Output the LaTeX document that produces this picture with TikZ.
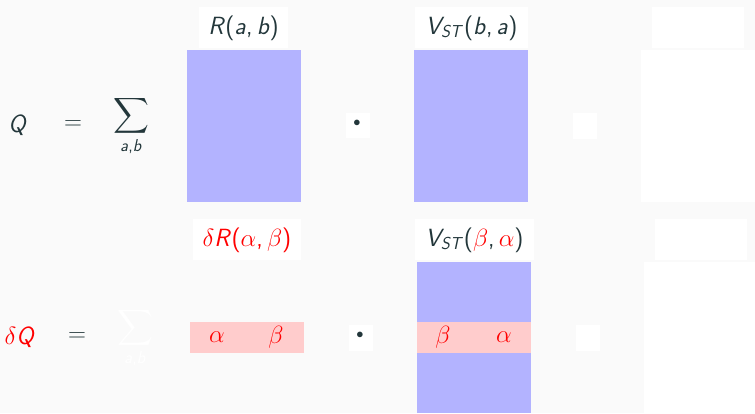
\documentclass[tikz,border=0pt]{standalone}
\usepackage{amsmath}
\definecolor{bg}{HTML}{FAFAFA}
\definecolor{ink}{HTML}{23373B}
\definecolor{blk}{HTML}{B3B3FF}
\definecolor{pnk}{HTML}{FFCCCC}
\definecolor{hot}{HTML}{FF0000}
\DeclareSymbolFont{sfletters}{OT1}{cmss}{m}{sl}
\DeclareSymbolFont{sfops}{OT1}{cmss}{m}{n}
\DeclareMathSymbol{Q}{\mathalpha}{sfletters}{`Q}
\DeclareMathSymbol{R}{\mathalpha}{sfletters}{`R}
\DeclareMathSymbol{V}{\mathalpha}{sfletters}{`V}
\DeclareMathSymbol{S}{\mathalpha}{sfletters}{`S}
\DeclareMathSymbol{T}{\mathalpha}{sfletters}{`T}
\DeclareMathSymbol{a}{\mathalpha}{sfletters}{`a}
\DeclareMathSymbol{b}{\mathalpha}{sfletters}{`b}
\DeclareMathSymbol{(}{\mathopen}{sfops}{`(}
\DeclareMathSymbol{)}{\mathclose}{sfops}{`)}
\DeclareMathSymbol{,}{\mathpunct}{sfops}{`,}
\begin{document}
\begin{tikzpicture}[x=1pt,y=-1pt,
  every node/.style={font=\fontsize{24}{29}\selectfont, text=ink, inner sep=0pt, outer sep=0pt},
  dotsym/.style={font=\fontsize{15}{18}\selectfont},
  blockfill/.style={fill=blk},
  bandfill/.style={fill=pnk},
  redtext/.style={text=hot}]
\fill[bg] (0,0) rectangle (755,413);
\useasboundingbox (0,0) rectangle (755,413);
% ---------- top row ----------
\node (Q) at (18,125) {$Q$};
\node (eq1) at (73,125) {$=$};
\node[anchor=north] (sum1) at (131,96) {$\displaystyle\sum_{a,b}$};
\fill[white] (199,7) rectangle (288,48);
\node (Rlab) at (243.5,28) {$R(a,b)$};
\fill[blockfill] (187,50) rectangle (301,202);
\fill[white] (346,113) rectangle (370,138);
\node[dotsym] (dot1) at (357,123.5) {$\bullet$};
\fill[white] (415,7) rectangle (528,48);
\node (Vlab) at (471.5,28) {$V_{ST}(b,a)$};
\fill[blockfill] (414,50) rectangle (528,202);
\fill[white] (573,113) rectangle (597,139);
\fill[white] (652,7) rectangle (744,48);
\fill[white] (641,50) rectangle (755,202);
% ---------- bottom row ----------
\node[redtext] (dQ) at (20,337) {$\delta Q$};
\node (eq2) at (77,337) {$=$};
\node[anchor=north, text=white] (sum2) at (135,308) {$\displaystyle\sum_{a,b}$};
\fill[white] (193,219) rectangle (301,260);
\node[redtext] (dRlab) at (247,240) {$\delta R(\alpha,\beta)$};
\fill[bandfill] (190,322) rectangle (304,353);
\node[redtext] (a1) at (217,337) {$\alpha$};
\node[redtext] (b1) at (276,337) {$\beta$};
\fill[white] (349,325) rectangle (373,351);
\node[dotsym] (dot2) at (360,335.5) {$\bullet$};
\fill[white] (415,219) rectangle (534,260);
\node (Vlab2) at (474.5,240) {$V_{ST}(\textcolor{hot}{\beta},\textcolor{hot}{\alpha})$};
\fill[blockfill] (417,262) rectangle (531,413);
\fill[bandfill] (417,322) rectangle (531,353);
\node[redtext] (b2) at (443,337) {$\beta$};
\node[redtext] (a2) at (504,337) {$\alpha$};
\fill[white] (576,325) rectangle (600,351);
\fill[white] (655,219) rectangle (747,260);
\fill[white] (644,262) rectangle (755,413);
\end{tikzpicture}
\end{document}
